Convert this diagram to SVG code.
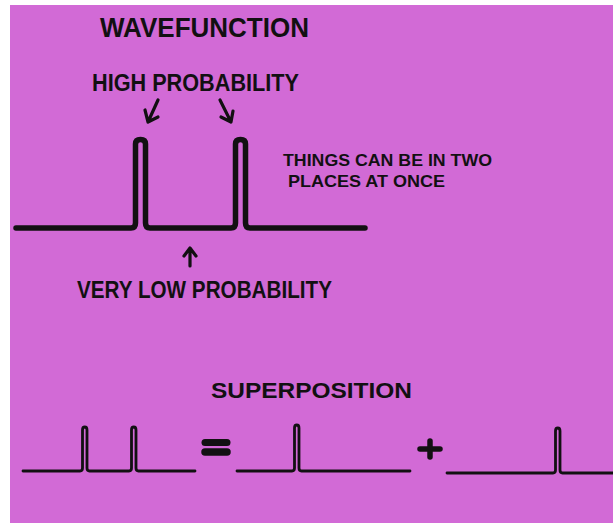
<svg xmlns="http://www.w3.org/2000/svg" width="613" height="523" viewBox="0 0 613 523">
<style>
.t{font-family:"Liberation Sans",Arial,sans-serif;font-weight:bold;fill:#121012}
.w{fill:none;stroke:#121012;stroke-linecap:round;stroke-linejoin:round}
.a{fill:none;stroke:#121012;stroke-width:3.2;stroke-linecap:round;stroke-linejoin:round}
</style>
<rect x="0" y="0" width="613" height="523" fill="#ffffff"/>
<rect x="10" y="5" width="603" height="518" fill="#D26AD6"/>
<g id="title-wavefunction"><text class="t" x="100" y="37" font-size="27" textLength="209" lengthAdjust="spacingAndGlyphs">WAVEFUNCTION</text></g>
<g id="label-high"><text class="t" x="92" y="91" font-size="23" textLength="207" lengthAdjust="spacingAndGlyphs">HIGH PROBABILITY</text></g>
<g id="label-twoplaces">
<text class="t" x="283" y="166" font-size="17" textLength="209" lengthAdjust="spacingAndGlyphs">THINGS CAN BE IN TWO</text>
<text class="t" x="288" y="187" font-size="17" textLength="157" lengthAdjust="spacingAndGlyphs">PLACES AT ONCE</text>
</g>
<g id="label-low"><text class="t" x="77" y="298" font-size="23" textLength="255" lengthAdjust="spacingAndGlyphs">VERY LOW PROBABILITY</text></g>
<g id="wave-main"><path class="w" stroke-width="5.5" d="M16,228 H131 Q135.5,228 135.5,223 V144 Q135.5,139.5 140.5,139.5 Q145.5,139.5 145.5,144 V223 Q145.5,228 150,228 H231 Q235.5,228 235.5,223 V144 Q235.5,139.5 240.5,139.5 Q245.5,139.5 245.5,144 V223 Q245.5,228 250,228 H365"/></g>
<g id="title-superposition"><text class="t" x="211" y="398" font-size="22" textLength="201" lengthAdjust="spacingAndGlyphs">SUPERPOSITION</text></g>
<g id="wave-both"><path class="w" stroke-width="2.8" d="M23,471 H80 Q82.5,471 82.5,468 V430 Q82.5,427 84.75,427 Q87,427 87,430 V468 Q87,471 89.5,471 H129 Q131.5,471 131.5,468 V430 Q131.5,427 133.75,427 Q136,427 136,430 V468 Q136,471 138.5,471 H195"/></g>
<g id="equals">
<line x1="205" y1="442.5" x2="227" y2="442.5" stroke="#121012" stroke-width="7" stroke-linecap="round"/>
<line x1="205" y1="452" x2="227" y2="452" stroke="#121012" stroke-width="7.5" stroke-linecap="round"/>
</g>
<g id="wave-first"><path class="w" stroke-width="2.8" d="M237,471 H292 Q294.5,471 294.5,468 V428 Q294.5,425 296.75,425 Q299,425 299,428 V468 Q299,471 301.5,471 H410"/></g>
<g id="plus">
<line x1="420" y1="449" x2="440" y2="449" stroke="#121012" stroke-width="5.5" stroke-linecap="round"/>
<line x1="430" y1="441" x2="430" y2="457" stroke="#121012" stroke-width="5.5" stroke-linecap="round"/>
</g>
<g id="wave-second"><path class="w" stroke-width="2.8" d="M447,473 H553 Q555.5,473 555.5,470 V431 Q555.5,428 557.75,428 Q560,428 560,431 V470 Q560,473 562.5,473 H613"/></g>
<g id="connectors">
<path class="a" d="M158,100 L148,122 M145,110 L148,122 L158,117"/>
<path class="a" d="M220,100 L231,122 M233,111 L231,122 L221,117"/>
<path class="a" d="M190,266 V249 M184,256 L190,248 L196,256"/>
</g>
</svg>
